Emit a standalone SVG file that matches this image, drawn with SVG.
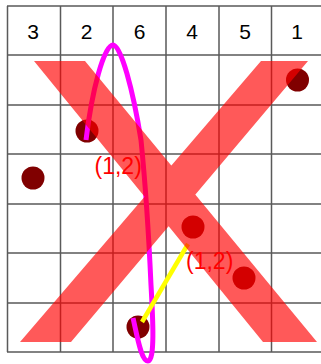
<svg xmlns="http://www.w3.org/2000/svg" width="321" height="364" viewBox="0 0 321 364">
<style>
.grid{stroke:#5a5a5a;stroke-width:1.5;fill:none}
.hdr{font-family:"Liberation Sans",Arial,sans-serif;font-size:21px;fill:#000;text-anchor:middle}
.dot{fill:#800000}
.lbl{font-family:"Liberation Sans",Arial,sans-serif;font-size:23px;fill:#ff0000}
</style>
<rect x="0" y="0" width="321" height="364" fill="#fff"/>
<g id="grid" class="grid">
<path d="M7.5,6V352M60.5,6V352M113,6V352M166,6V352M219,6V352M271.5,6V352"/>
<path d="M7,6H321M7,55H321M7,105H321M7,154H321M7,204H321M7,253H321M7,303H321M7,352H321"/>
</g>
<g id="header">
<text class="hdr" x="33" y="38.5">3</text>
<text class="hdr" x="86.5" y="38.5">2</text>
<text class="hdr" x="139.5" y="38.5">6</text>
<text class="hdr" x="192" y="38.5">4</text>
<text class="hdr" x="245" y="38.5">5</text>
<text class="hdr" x="297" y="38.5">1</text>
</g>
<g id="n1"><circle class="dot" cx="297.5" cy="80" r="11.5"/></g>
<g id="n2"><circle class="dot" cx="87" cy="131" r="11.5"/></g>
<g id="n3"><circle class="dot" cx="33" cy="178" r="11.5"/></g>
<g id="n4"><circle class="dot" cx="193" cy="227" r="11.5"/></g>
<g id="n5"><circle class="dot" cx="244" cy="278" r="11.5"/></g>
<g id="n6"><circle class="dot" cx="138" cy="327" r="11.5"/></g>
<g id="connectors">
<path d="M133,318 C137,335 141,361 148,361 C155,361 153,320 151,285 C149,240 145,180 141,140 C133,90 121,45 113,45 C104,45 92,90 86,140" fill="none" stroke="#ff00ff" stroke-width="5"/>
<line x1="188" y1="244" x2="142" y2="322" stroke="#ffff00" stroke-width="4.5"/>
</g>
<g id="cross">
<path d="M34,61H85L317,342H263Z M261,61H308L71,342H20Z" fill="#ff0000" fill-opacity="0.65"/>
</g>
<g id="labels">
<text class="lbl" x="94.5" y="173.5">(1,2)</text>
<text class="lbl" x="186" y="268.5">(1,2)</text>
</g>
</svg>
